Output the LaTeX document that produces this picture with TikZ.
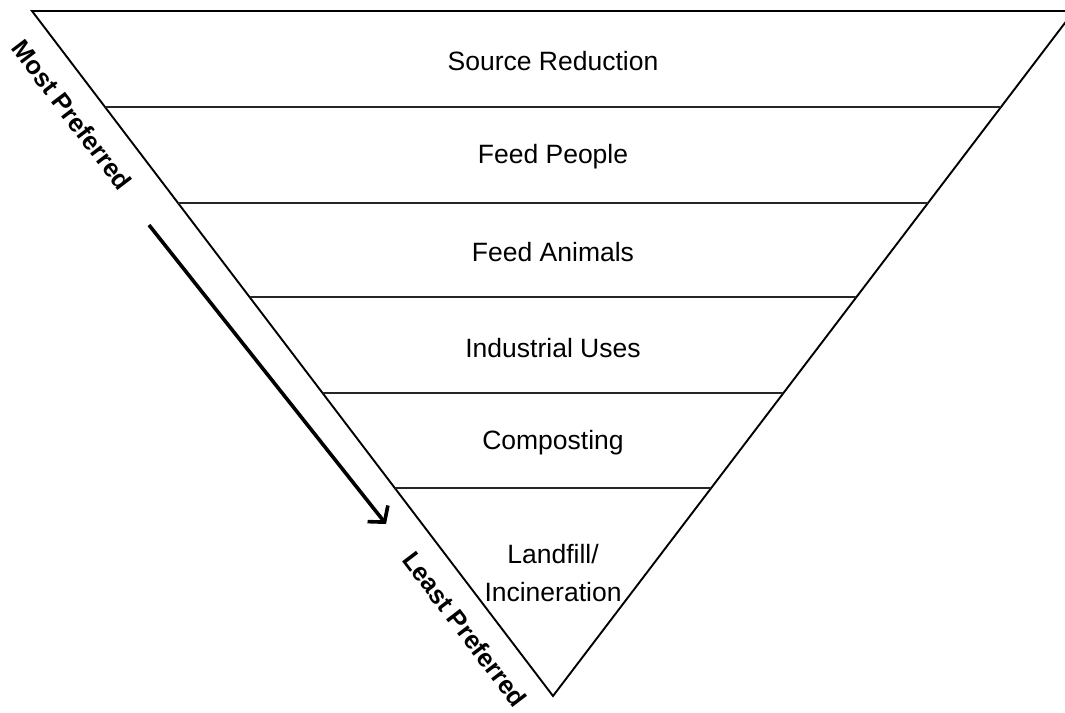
\documentclass[tikz,border=0pt]{standalone}
\usepackage{fontspec}
\setmainfont{Liberation Sans}
\usetikzlibrary{arrows.meta,calc}
\begin{document}
\begin{tikzpicture}[x=1pt,y=-1pt,
  edge/.style={line width=1.9pt, line join=miter},
  tier/.style={line width=2.1pt, draw=black!85},
  level/.style={font=\fontsize{26.5}{38}\selectfont, align=center, inner sep=0pt},
  rank/.style={font=\fontsize{25.5}{30}\selectfont\bfseries, inner sep=0pt, rotate=-52.7},
  trend/.style={line width=3.6pt, -{Straight Barb[length=11pt,width=26pt,line width=3.6pt]}}]
  \useasboundingbox (0,0) rectangle (1065,712);
  \begin{scope}
    \clip (0,0) rectangle (1065,712);
    % inverted triangle
    \coordinate (tl) at (32,11);
    \coordinate (tr) at (1074,11);
    \coordinate (apex) at (553,696);
    \draw[edge] (tr) -- (tl) -- (apex) -- cycle;
    % tier dividers
    \foreach \y/\n in {107/a,203/b,297/c,393/d,488/e}{
      \coordinate (l\n) at ($(tl)!{(\y-11)/685}!(apex)$);
      \coordinate (r\n) at ($(tr)!{(\y-11)/685}!(apex)$);
      \draw[tier] (l\n) -- (r\n);
    }
  \end{scope}
  % tier labels
  \node[level] (src) at (553,61) {Source Reduction};
  \node[level] (ppl) at (553,157) {Feed People};
  \node[level] (ani) at (553,252) {Feed Animals};
  \node[level] (ind) at (553,348) {Industrial Uses};
  \node[level] (cmp) at (553,443) {Composting};
  \node[level] (lnd) at (553,573) {Landfill/\\Incineration};
  % preference scale
  \node[rank] (most) at (72,115) {Most Preferred};
  \node[rank] (least) at (465,629) {Least Preferred};
  \coordinate (from) at (149,225);
  \coordinate (to) at (386,524);
  \draw[trend] (from) -- (to);
\end{tikzpicture}
\end{document}
